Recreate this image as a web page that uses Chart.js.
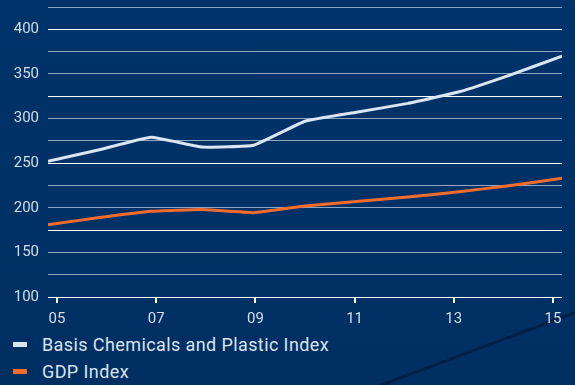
<!DOCTYPE html>
<html>
<head>
<meta charset="utf-8">
<script src="https://cdn.jsdelivr.net/npm/chart.js@4/dist/chart.umd.min.js"></script>
<style>
  html, body { margin: 0; padding: 0; }
  body {
    width: 575px; height: 385px; overflow: hidden;
    background: linear-gradient(180deg, #003369 0%, #003166 60%, #002f62 100%);
    font-family: Roboto, "DejaVu Sans", sans-serif;
  }
  #wrap { position: relative; width: 575px; height: 385px; }
  #chartBox { position: absolute; left: 0; top: 0; width: 575px; height: 330px; }
  #deco {
    position: absolute; left: 380px; top: 384px; width: 210px; height: 3px;
    background: rgba(0, 25, 60, 0.7);
    transform: rotate(-20.5deg); transform-origin: left center;
  }
  #legend { position: absolute; left: 13px; top: 331px; color: #dbe3ee; font-size: 18px; letter-spacing: 0.4px; }
  .item { height: 27px; display: flex; align-items: center; }
  .box { width: 14px; height: 5px; margin-right: 15px; }
</style>
</head>
<body>
<div id="wrap">
  <div id="deco"></div>
  <div id="chartBox"><canvas id="chartLine"></canvas></div>
  <div id="legend"></div>
</div>
<script>
var years = [2005, 2006, 2007, 2008, 2009, 2010, 2011, 2012, 2013, 2014, 2015];
var chemicalsIndex = [252, 265, 279, 268, 270, 297, 307, 317, 330, 349, 370];
var gdpIndex = [181, 189, 196, 198, 194.5, 202, 207, 212, 218, 225, 233];
var tickLabels = ['05', '07', '09', '11', '13', '15'];

var seriesNames = ['Basis Chemicals and Plastic Index', 'GDP Index'];
var seriesColors = ['#dce6f2', '#f26c2c'];

function points(values) {
    return years.map(function (y, i) { return { x: y, y: values[i] }; });
}

var ourLine = document.getElementById('chartLine');

var lineChart = new Chart(ourLine, {
    type: 'line',
    data: {
        datasets: [
            {
                label: seriesNames[0],
                data: points(chemicalsIndex),
                borderColor: seriesColors[0],
                backgroundColor: seriesColors[0],
                borderWidth: 3,
                pointRadius: 0,
                tension: 0.1
            },
            {
                label: seriesNames[1],
                data: points(gdpIndex),
                borderColor: seriesColors[1],
                backgroundColor: seriesColors[1],
                borderWidth: 3,
                pointRadius: 0,
                tension: 0.1
            }
        ]
    },
    options: {
        responsive: true,
        maintainAspectRatio: false,
        animation: false,
        layout: { padding: { left: 14, right: 13, top: 7, bottom: 5 } },
        plugins: {
            legend: { display: false },
            tooltip: { enabled: false }
        },
        scales: {
            x: {
                type: 'linear',
                min: years[0],
                max: years[years.length - 1],
                afterBuildTicks: function (scale) {
                    // label ticks sit slightly off the yearly points, as in the original
                    scale.ticks = tickLabels.map(function (t, k) {
                        return { value: years[0] + 0.175 + 1.93 * k, label: t };
                    });
                },
                afterFit: function (scale) {
                    scale.height = 28;
                    scale.paddingLeft = 0;
                    scale.paddingRight = 0;
                },
                ticks: {
                    autoSkip: false,
                    maxRotation: 0,
                    padding: 7,
                    color: '#d5dde8',
                    font: { family: 'Roboto', size: 15 },
                    callback: function (v, i) { return tickLabels[i]; }
                },
                grid: {
                    drawOnChartArea: false,
                    drawTicks: true,
                    tickLength: 6,
                    lineWidth: 2,
                    color: '#ffffff'
                },
                border: { display: false }
            },
            y: {
                min: 100,
                max: 425,
                afterFit: function (scale) {
                    scale.width = 34;
                    scale.paddingTop = 0;
                    scale.paddingBottom = 0;
                },
                ticks: {
                    stepSize: 25,
                    padding: 9,
                    color: '#d5dde8',
                    font: { family: 'Roboto', size: 15 },
                    callback: function (v) { return v % 50 === 0 && v <= 400 ? v : ''; }
                },
                grid: {
                    drawTicks: false,
                    lineWidth: 1,
                    color: function (ctx) {
                        var v = ctx.tick ? ctx.tick.value : 0;
                        return (v - 100) % 75 === 0 && v <= 400 ? '#ffffff' : '#8fa6c3';
                    }
                },
                border: { display: false }
            }
        }
    }
});

// legend below the chart
var legendBox = document.getElementById('legend');
lineChart.data.datasets.forEach(function (ds) {
    var row = document.createElement('div');
    row.className = 'item';
    var sw = document.createElement('span');
    sw.className = 'box';
    sw.style.background = ds.borderColor;
    var txt = document.createElement('span');
    txt.textContent = ds.label;
    row.appendChild(sw);
    row.appendChild(txt);
    legendBox.appendChild(row);
});
</script>
</body>
</html>
